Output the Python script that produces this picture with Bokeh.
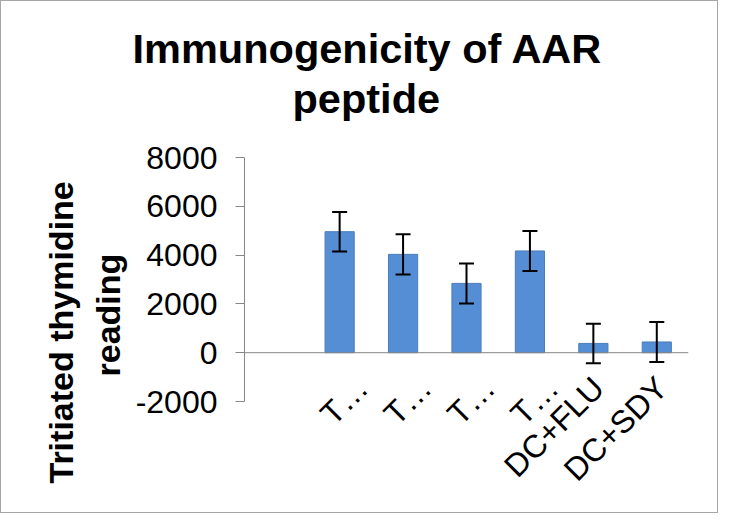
import math
from bokeh.plotting import figure
from bokeh.models import ColumnDataSource, FixedTicker, Whisker, TeeHead, Range1d, Title, Span
from bokeh.embed import file_html
from bokeh.resources import INLINE

# ---- data ----
categories = ["", "T…", "T…", "T…", "T…", "DC+FLU", "DC+SDY"]
values = [None, 4960, 4030, 2840, 4170, 380, 440]
errors = [None, 810, 820, 820, 820, 810, 820]
y_ticks = [-2000, 0, 2000, 4000, 6000, 8000]

xs, tops, uppers, lowers = [], [], [], []
for i, (v, e) in enumerate(zip(values, errors)):
    if v is None:
        continue
    xs.append(i + 0.5)
    tops.append(v)
    uppers.append(v + e)
    lowers.append(v - e)

src = ColumnDataSource(dict(x=xs, top=tops, upper=uppers, lower=lowers))

FONT = "Liberation Sans"

p = figure(width=718, height=513, output_backend="svg", toolbar_location=None,
           x_range=Range1d(0, len(categories)), y_range=Range1d(y_ticks[0], y_ticks[-1]),
           min_border_left=243, min_border_right=31, min_border_top=156, min_border_bottom=113)
p.outline_line_color = None
p.grid.visible = False
p.background_fill_color = "white"
p.border_fill_color = "white"
p.styles = {"border": "1px solid #a6a6a6"}

# title (two lines)
p.title = None
t2 = Title(text="peptide", align="left", offset=48, text_font=FONT,
           text_font_size="41.5px", text_font_style="bold", text_color="black", standoff=72)
t1 = Title(text="Immunogenicity of AAR", align="left", offset=-112, text_font=FONT,
           text_font_size="41.5px", text_font_style="bold", text_color="black", standoff=-70)
p.add_layout(t2, "above")
p.add_layout(t1, "above")

p.vbar(x="x", top="top", bottom=0, width=0.46, source=src,
       fill_color="#558ED5", line_color="#4A7EBB", line_width=1)

p.add_layout(Span(location=0, dimension="width", line_color="#868686", line_width=1))

p.add_layout(Whisker(source=src, base="x", upper="upper", lower="lower", level="overlay",
                     line_color="black", line_width=2,
                     upper_head=TeeHead(size=15, line_color="black", line_width=2),
                     lower_head=TeeHead(size=15, line_color="black", line_width=2)))

# y axis
ya = p.yaxis[0]
ya.ticker = FixedTicker(ticks=y_ticks)
ya.major_label_overrides = {t: str(t) for t in y_ticks}
ya.minor_tick_line_color = None
ya.major_tick_in = 0
ya.major_tick_out = 9
ya.axis_line_color = "#868686"
ya.major_tick_line_color = "#868686"
ya.major_label_text_font = FONT
ya.major_label_text_font_size = "32px"
ya.major_label_text_color = "black"
ya.major_label_standoff = 18

# y axis title (two lines)
ty2 = Title(text="reading", align="left", offset=25, text_font=FONT,
            text_font_size="34px", text_font_style="bold", text_color="black", standoff=12)
ty1 = Title(text="Tritiated thymidine", align="left", offset=-82, text_font=FONT,
            text_font_size="34px", text_font_style="bold", text_color="black", standoff=2)
p.add_layout(ty2, "left")
p.add_layout(ty1, "left")

# x axis (labels only; zero line drawn as span). Truncated "T…" labels sit a
# little right of their bar, as in the original.
label_shift = [0.0 if c.startswith("DC") or c == "" else 0.36 for c in categories]
label_shift = [s if s else 0.08 for s in label_shift]
tick_pos = [i + 0.5 + s for i, s in enumerate(label_shift)]
xa = p.xaxis[0]
xa.ticker = FixedTicker(ticks=tick_pos)
xa.major_label_overrides = {t: c for t, c in zip(tick_pos, categories)}
xa.minor_tick_line_color = None
xa.major_tick_in = 0
xa.major_tick_out = 0
xa.axis_line_color = None
xa.major_label_orientation = math.pi / 4
xa.major_label_text_font = FONT
xa.major_label_text_font_size = "32px"
xa.major_label_text_color = "black"
xa.major_label_standoff = -19

open("out.html", "w").write(file_html(p, INLINE))
